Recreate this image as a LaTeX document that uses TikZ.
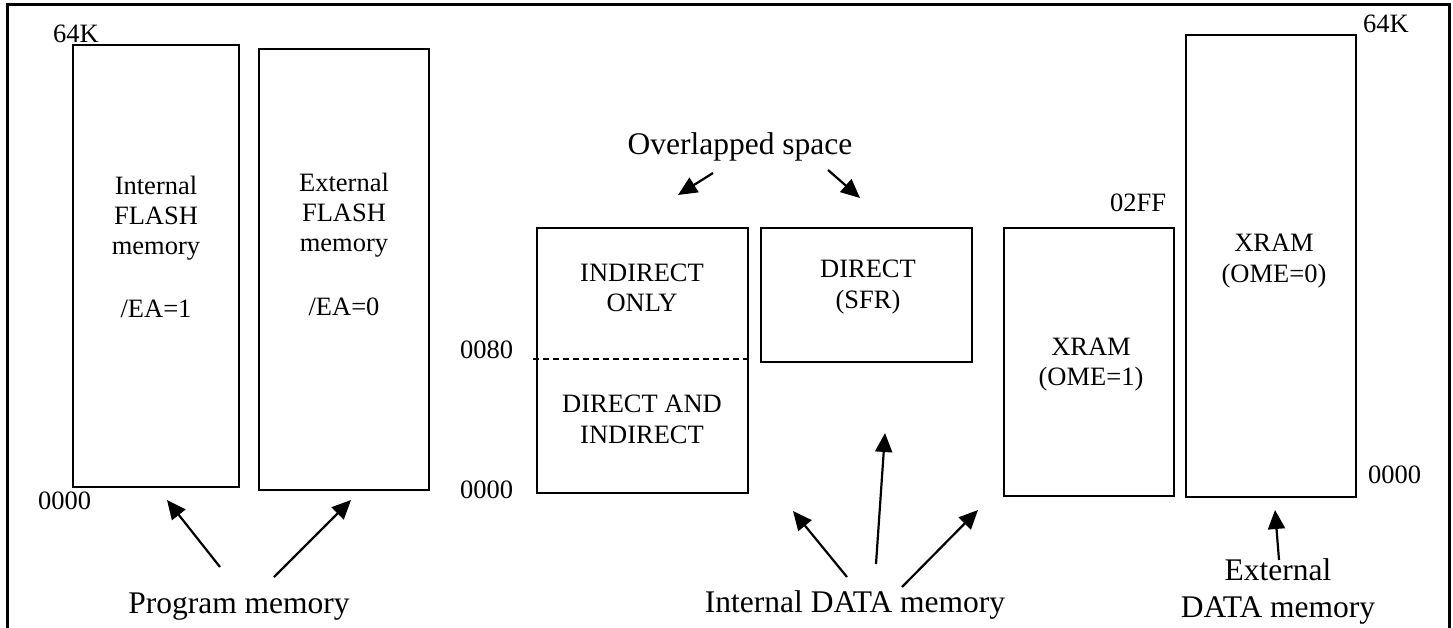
\documentclass[tikz,border=0pt]{standalone}
\usepackage{fontspec}
\setmainfont{Liberation Serif}
\usetikzlibrary{arrows.meta}
\begin{document}
\begin{tikzpicture}[x=1pt,y=-1pt,
  memblock/.style={draw,line width=2.4pt},
  small/.style={font=\fontsize{26.5}{30}\selectfont,inner sep=0pt,anchor=base},
  smallw/.style={font=\fontsize{26.5}{30}\selectfont,inner sep=0pt,anchor=base west},
  big/.style={font=\fontsize{31.5}{37}\selectfont,inner sep=0pt,anchor=base},
  pointer/.style={line width=2.2pt,-{Triangle[length=19pt,width=17pt]}}]
\useasboundingbox (0,0) rectangle (1453,628);
% frame
\draw[line width=3pt] (7,630) -- (7,5) -- (1449,5) -- (1449,630);
% program memory blocks
\draw[memblock] (73,45) rectangle (239,487);
\draw[memblock] (259,49) rectangle (429,490);
\node[small] (ia) at (156,195) {Internal};
\node[small] (ib) at (156,225) {FLASH};
\node[small] (ic) at (156,255) {memory};
\node[small] (id) at (156,317) {/EA=1};
\node[small] (ea) at (344,192) {External};
\node[small] (eb) at (344,222) {FLASH};
\node[small] (ec) at (344,252) {memory};
\node[small] (ed) at (344,315) {/EA=0};
\node[smallw] (k1) at (53,43) {64K};
\node[smallw] (z1) at (38,509) {0000};
% internal data blocks
\draw[memblock] (537,228) rectangle (748,493);
\draw[line width=2pt,dash pattern=on 6pt off 4pt] (533,359) -- (751,359);
\draw[memblock] (761,228) rectangle (972,362);
\node[small] (na) at (642,282) {INDIRECT};
\node[small] (nb) at (642,312) {ONLY};
\node[small] (nc) at (642,412) {DIRECT AND};
\node[small] (nd) at (642,443) {INDIRECT};
\node[small] (sa) at (868,278) {DIRECT};
\node[small] (sb) at (868,308) {(SFR)};
\node[smallw] (a80) at (460,358) {0080};
\node[smallw] (z2) at (460,498) {0000};
% external data blocks
\draw[memblock] (1004,228) rectangle (1174,496);
\draw[memblock] (1186,35) rectangle (1356,497);
\node[small] (xa) at (1091,355) {XRAM};
\node[small] (xb) at (1091,385) {(OME=1)};
\node[small] (ya) at (1274,252) {XRAM};
\node[small] (yb) at (1274,283) {(OME=0)};
\node[smallw] (ff) at (1110,212) {02FF};
\node[smallw] (k2) at (1363,33) {64K};
\node[smallw] (z3) at (1368,483) {0000};
% captions
\node[big] (pm) at (239,613) {Program memory};
\node[big] (ov) at (740,155) {Overlapped space};
\node[big] (idm) at (855,612) {Internal DATA memory};
\node[big] (exa) at (1278,580) {External};
\node[big] (exb) at (1278,617) {DATA memory};
% arrow coordinates
\coordinate (p1s) at (220,567); \coordinate (p1e) at (167,500);
\coordinate (p2s) at (274,577); \coordinate (p2e) at (351,500);
\coordinate (o1s) at (713,173); \coordinate (o1e) at (678,195);
\coordinate (o2s) at (828,170); \coordinate (o2e) at (860,198);
\coordinate (d1s) at (847,577); \coordinate (d1e) at (793,511);
\coordinate (d2s) at (876,564); \coordinate (d2e) at (885,433);
\coordinate (d3s) at (902,587); \coordinate (d3e) at (978,510);
\coordinate (x1s) at (1279,560); \coordinate (x1e) at (1275,510);
\draw[pointer] (p1s) -- (p1e);
\draw[pointer] (p2s) -- (p2e);
\draw[pointer] (o1s) -- (o1e);
\draw[pointer] (o2s) -- (o2e);
\draw[pointer] (d1s) -- (d1e);
\draw[pointer] (d2s) -- (d2e);
\draw[pointer] (d3s) -- (d3e);
\draw[pointer] (x1s) -- (x1e);
\end{tikzpicture}
\end{document}
